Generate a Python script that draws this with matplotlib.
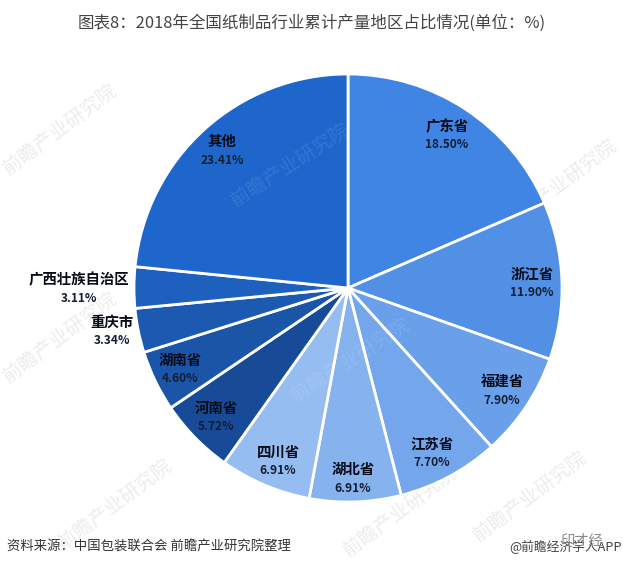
import matplotlib
matplotlib.use("Agg")
import matplotlib.pyplot as plt

plt.rcParams['font.family'] = ['Noto Sans CJK SC', 'DejaVu Sans']

W, H = 623, 567
regions = ['广东省', '浙江省', '福建省', '江苏省', '湖北省', '四川省', '河南省', '湖南省', '重庆市', '广西壮族自治区', '其他']
shares = [18.50, 11.90, 7.90, 7.70, 6.91, 6.91, 5.72, 4.60, 3.34, 3.11, 23.41]
colors = ['#4085E4', '#5290E6', '#6AA0EA', '#74A6EC', '#86B2EE', '#96BDF1',
          '#174A97', '#1B55A8', '#1C5AB2', '#1D60BE', '#1E66CC']
label_px = [(447, 136), (532, 283), (502, 391), (432, 453), (353, 479), (278, 462),
            (216, 418), (180, 370), (112, 332), (79, 289), (222, 151)]

title = '图表8：2018年全国纸制品行业累计产量地区占比情况(单位：%)'
source = '资料来源：中国包装联合会 前瞻产业研究院整理'
credit = '@前瞻经济学人APP'
stamp = '印才经'
watermark = '前瞻产业研究院'
paper_marks = [(60, 130), (60, 338), (560, 185), (115, 505), (400, 512), (530, 497)]
pie_marks = [(290, 165), (350, 360)]

fig = plt.figure(figsize=(W / 100, H / 100), dpi=100, facecolor='white')

bg = fig.add_axes([0, 0, 1, 1])
bg.set_xlim(0, W)
bg.set_ylim(H, 0)
bg.axis('off')
for x, y in paper_marks:
    bg.text(x, y, watermark, rotation=37, fontsize=14, color='#EBECEF', ha='center', va='center')

cx, cy, r = 348, 288, 214
ax = fig.add_axes([(cx - r) / W, 1 - (cy + r) / H, 2 * r / W, 2 * r / H], facecolor='none')
wedges, _ = ax.pie(shares, colors=colors, startangle=90, counterclock=False, radius=1,
                   wedgeprops=dict(edgecolor='white', linewidth=2.0))
ax.set_xlim(-1, 1)
ax.set_ylim(-1, 1)
for p in wedges:
    p.set_clip_on(False)

fg = fig.add_axes([0, 0, 1, 1], facecolor='none')
fg.set_xlim(0, W)
fg.set_ylim(H, 0)
fg.axis('off')
for x, y in pie_marks:
    fg.text(x, y, watermark, rotation=33, fontsize=14, color='white', alpha=0.1, ha='center', va='center')
for name, val, (x, y) in zip(regions, shares, label_px):
    fg.text(x, y - 9, name, fontsize=10.4, fontweight='bold', color='#060B18', ha='center', va='center')
    fg.text(x, y + 9, f'{val:.2f}%', fontsize=8.6, fontweight='bold', color='#131E33', ha='center', va='center')

fg.text(312, 23, title, fontsize=11.9, color='#444444', ha='center', va='center')
fg.text(7, 547, source, fontsize=9.6, color='#333333', ha='left', va='center')
fg.text(622, 547, credit, fontsize=9.2, color='#444444', ha='right', va='center')
fg.text(581, 541, stamp, fontsize=10.3, color='#8C8C8C', ha='center', va='center')

fig.savefig('out.png', dpi=100)
